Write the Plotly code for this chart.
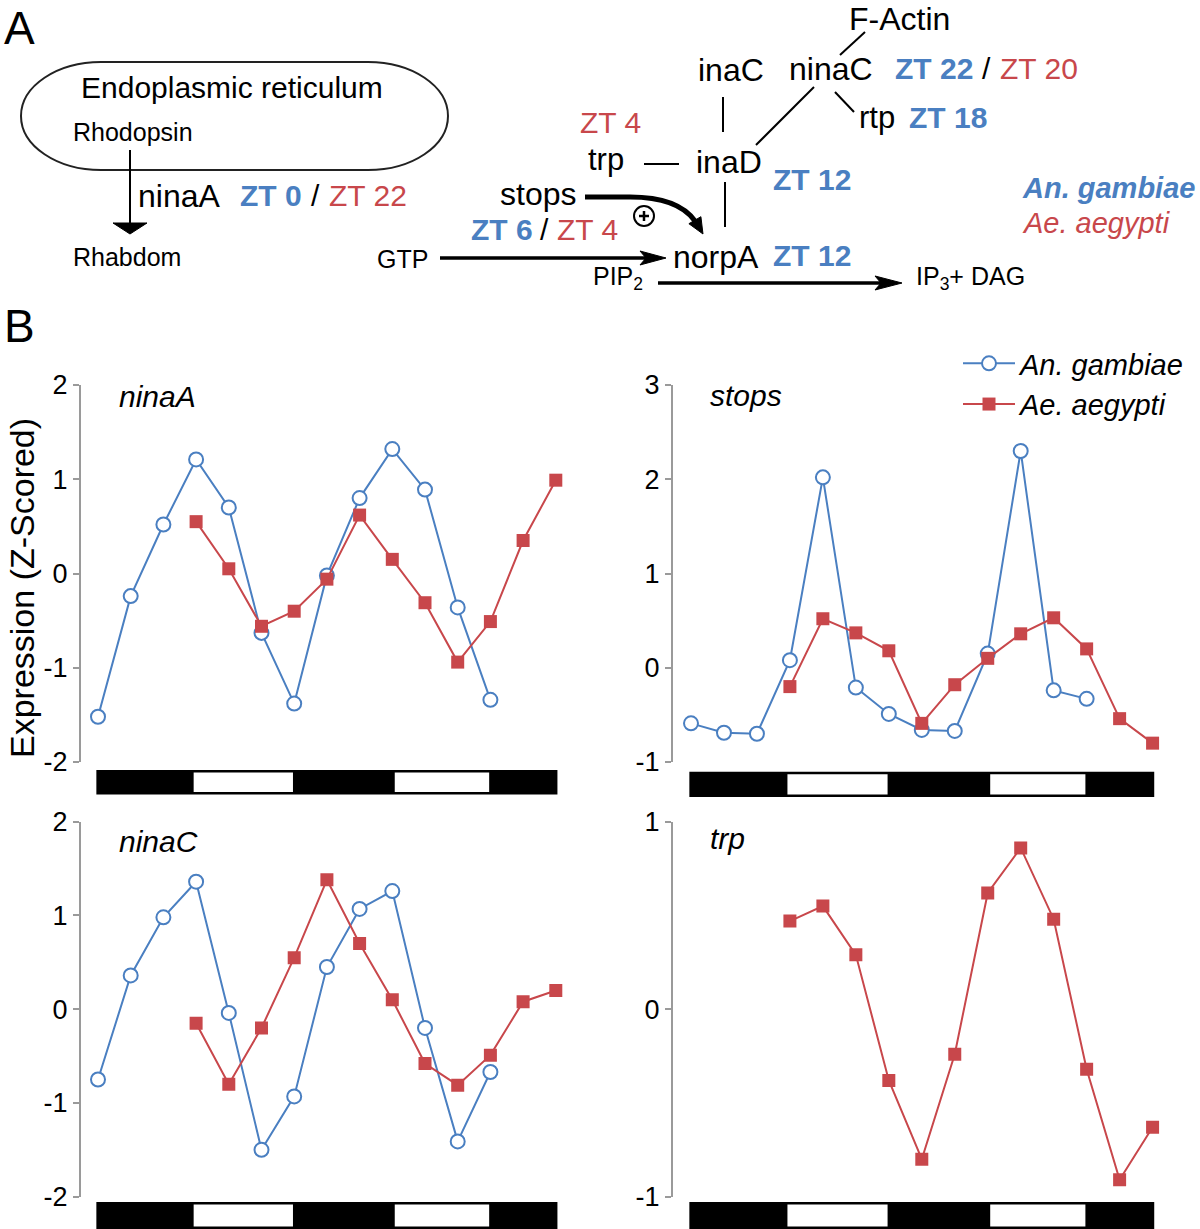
import plotly.graph_objects as go

W, H = 1200, 1229
BLUE = '#4a7fc1'
RED = '#c8474b'
FONT = 'Liberation Sans, Arial, Helvetica, sans-serif'

# ---------------- data ----------------
time_an = [0, 4, 8, 12, 16, 20, 24, 28, 32, 36, 40, 44, 48]          # hours, An. gambiae
time_ae = [12, 16, 20, 24, 28, 32, 36, 40, 44, 48, 52, 56]           # hours, Ae. aegypti

ninaA_an = [-1.52, -0.24, 0.52, 1.21, 0.70, -0.63, -1.38, -0.02, 0.80, 1.32, 0.89, -0.36, -1.34]
ninaA_ae = [0.55, 0.05, -0.56, -0.40, -0.06, 0.62, 0.15, -0.31, -0.94, -0.51, 0.35, 0.99]
stops_an = [-0.59, -0.69, -0.70, 0.08, 2.02, -0.21, -0.49, -0.66, -0.67, 0.15, 2.30, -0.24, -0.33]
stops_ae = [-0.20, 0.52, 0.37, 0.18, -0.59, -0.18, 0.10, 0.36, 0.53, 0.20, -0.54, -0.80]
ninaC_an = [-0.75, 0.36, 0.98, 1.36, -0.04, -1.50, -0.93, 0.45, 1.07, 1.26, -0.20, -1.41, -0.67]
ninaC_ae = [-0.15, -0.80, -0.20, 0.55, 1.38, 0.70, 0.10, -0.58, -0.81, -0.49, 0.08, 0.20]
trp_ae = [0.47, 0.55, 0.29, -0.38, -0.80, -0.24, 0.62, 0.86, 0.48, -0.32, -0.91, -0.63]

genes = ['ninaA', 'stops', 'ninaC', 'trp']
tick_vals = [[-2, -1, 0, 1, 2], [-1, 0, 1, 2, 3], [-2, -1, 0, 1, 2], [-1, 0, 1]]
tick_text = [['-2', '-1', '0', '1', '2'], ['-1', '0', '1', '2', '3'],
             ['-2', '-1', '0', '1', '2'], ['-1', '0', '1']]
light_phases = [(11.7, 23.85), (36.3, 47.85)]   # hours of light (white bar)
record_span = (-0.2, 56.2)                      # hours covered by light/dark bar
species = ['An. gambiae', 'Ae. aegypti']


def PX(p):
    return p / W


def PY(p):
    return 1 - p / H


fig = go.Figure()

# ---------------- panel geometry (pixels) ----------------
col_px = [(81, 570), (673, 1165)]
col_origin = [98, 691]          # pixel of hour 0
col_step = [8.175, 8.2425]      # pixels per hour
row_px = [(385, 762), (821.7, 1196.7)]
bar_px = [[(770, 794.5), (771.7, 797)], [(1202, 1229), (1202, 1229)]]

series = [
    (ninaA_an, ninaA_ae),
    (stops_an, stops_ae),
    (ninaC_an, ninaC_ae),
    (None, trp_ae),
]

layout_axes = {}
shapes = []
annotations = []

for i, gene in enumerate(genes):
    r, c = divmod(i, 2)
    n = i + 1
    xa = 'x' if n == 1 else f'x{n}'
    ya = 'y' if n == 1 else f'y{n}'
    xl, xr = col_px[c]
    yt, yb = row_px[r]
    xrange = [(xl - col_origin[c]) / col_step[c], (xr - col_origin[c]) / col_step[c]]
    layout_axes['xaxis' if n == 1 else f'xaxis{n}'] = dict(
        domain=[PX(xl), PX(xr)], range=xrange, visible=False, anchor=ya, fixedrange=True,
        automargin=False)
    layout_axes['yaxis' if n == 1 else f'yaxis{n}'] = dict(
        domain=[PY(yb), PY(yt)], range=[tick_vals[i][0], tick_vals[i][-1]], anchor=xa,
        tickmode='array', tickvals=tick_vals[i], ticktext=tick_text[i],
        showline=True, linecolor='#9a9a9a', linewidth=2, mirror=False,
        ticks='outside', ticklen=6, tickwidth=2, tickcolor='#9a9a9a',
        showgrid=False, zeroline=False, fixedrange=True, automargin=False,
        tickfont=dict(size=27, color='black', family=FONT))

    an, ae = series[i]
    if an is not None:
        fig.add_trace(go.Scatter(
            x=time_an, y=an, xaxis=xa, yaxis=ya, mode='lines+markers',
            name='<i>' + species[0] + '</i>', showlegend=(i == 0), legendgroup='an',
            line=dict(color=BLUE, width=2),
            marker=dict(symbol='circle', size=14, color='white', line=dict(color=BLUE, width=2))))
    fig.add_trace(go.Scatter(
        x=time_ae, y=ae, xaxis=xa, yaxis=ya, mode='lines+markers',
        name='<i>' + species[1] + '</i>', showlegend=(i == 0), legendgroup='ae',
        line=dict(color=RED, width=2),
        marker=dict(symbol='square', size=13, color=RED, line=dict(color=RED, width=0))))

    # light / dark bar
    bt, bb = bar_px[r][c]
    shapes.append(dict(type='rect', xref=xa, yref='paper', x0=record_span[0], x1=record_span[1],
                       y0=PY(bb), y1=PY(bt), fillcolor='black', line=dict(width=0), layer='above'))
    for (l0, l1) in light_phases:
        shapes.append(dict(type='rect', xref=xa, yref='paper', x0=l0, x1=l1,
                           y0=PY(bb - 2.5), y1=PY(bt + 2.5), fillcolor='white',
                           line=dict(width=0), layer='above'))

    # gene label
    lab_y = [396, 395, 841, 838][i]
    annotations.append(dict(text='<i>' + gene + '</i>', x=PX([117, 708][c]), y=PY(lab_y),
                            xref='paper', yref='paper', xanchor='left', yanchor='middle',
                            showarrow=False, font=dict(size=30, color='black', family=FONT)))


# ---------------- panel A diagram ----------------
def path(cmds):
    out = []
    for cmd, pts in cmds:
        out.append(cmd + ' ' + ' '.join(f'{PX(x):.5f},{PY(y):.5f}' for x, y in pts))
    return ' '.join(out)


def line(x0, y0, x1, y1, w=2):
    shapes.append(dict(type='line', xref='paper', yref='paper', x0=PX(x0), y0=PY(y0),
                       x1=PX(x1), y1=PY(y1), line=dict(color='black', width=w)))


def poly(pts):
    cmds = [('M', [pts[0]])] + [('L', [p]) for p in pts[1:]] + [('Z', [])]
    shapes.append(dict(type='path', xref='paper', yref='paper', path=path(cmds),
                       fillcolor='black', line=dict(color='black', width=1)))


# ER outline
shapes.append(dict(type='path', xref='paper', yref='paper', line=dict(color='#222', width=2),
                   path=path([('M', [(101, 62)]), ('L', [(368, 62)]),
                              ('C', [(412, 62), (448, 86), (448, 116)]),
                              ('C', [(448, 146), (412, 170), (368, 170)]),
                              ('L', [(101, 170)]),
                              ('C', [(57, 170), (21, 146), (21, 116)]),
                              ('C', [(21, 86), (57, 62), (101, 62)]), ('Z', [])])))

line(130, 150, 130, 225, 2)
poly([(113, 223), (147, 223), (130, 234)])
line(440, 258, 648, 258, 3.5)
poly([(666, 258), (640, 251), (646, 258), (640, 265)])
line(658, 283, 885, 283, 3.5)
poly([(902, 283), (875, 276), (881, 283), (875, 290)])
line(865, 32, 840, 55)
line(723, 97, 723, 132)
line(814, 87, 756, 145)
line(835, 92, 854, 112)
line(644, 164, 679, 164)
line(725, 182, 725, 227)
shapes.append(dict(type='path', xref='paper', yref='paper', line=dict(color='black', width=5),
                   path=path([('M', [(585, 197)]), ('L', [(630, 197)]),
                              ('Q', [(678, 197), (695, 221)])])))
poly([(703, 234), (688.9, 223.7), (700.9, 216.7)])
shapes.append(dict(type='circle', xref='paper', yref='paper', x0=PX(634), x1=PX(654),
                   y0=PY(226), y1=PY(206), line=dict(color='black', width=2)))
line(639, 216, 649, 216, 2.5)
line(644, 211, 644, 221, 2.5)


def txt(text, x, y, size, color='black', anchor='left', angle=0):
    annotations.append(dict(text=text, x=PX(x), y=PY(y), xref='paper', yref='paper',
                            xanchor=anchor, yanchor='middle', showarrow=False, textangle=angle,
                            font=dict(size=size, color=color, family=FONT)))


def b(t):
    return '<b>' + t + '</b>'


txt('A', 2, 28, 46)
txt('B', 2, 326, 46)
txt('Endoplasmic reticulum', 79, 87, 30)
txt('Rhodopsin', 71, 132, 25)
txt('ninaA', 136, 196, 32)
txt(b('ZT 0'), 238, 196, 30, BLUE)
txt('/', 309, 196, 30)
txt('ZT 22', 327, 196, 30, RED)
txt('Rhabdom', 71, 257, 25)
txt('GTP', 375, 259, 25)
txt('F-Actin', 847, 19, 32)
txt('inaC', 696, 70, 32)
txt('ninaC', 787, 69, 32)
txt(b('ZT 22'), 893, 69, 30, BLUE)
txt('/', 980, 69, 30)
txt('ZT 20', 998, 69, 30, RED)
txt('rtp', 857, 117, 31)
txt(b('ZT 18'), 907, 118, 30, BLUE)
txt('ZT 4', 578, 122, 30, RED)
txt('trp', 586, 159, 31)
txt('inaD', 694, 162, 32)
txt(b('ZT 12'), 771, 180, 30, BLUE)
txt('stops', 498, 194, 32)
txt(b('ZT 6'), 469, 230, 30, BLUE)
txt('/', 538, 230, 30)
txt('ZT 4', 555, 230, 30, RED)
txt('norpA', 671, 257, 32)
txt(b('ZT 12'), 771, 256, 30, BLUE)
txt('PIP<sub>2</sub>', 591, 278, 25)
txt('IP<sub>3</sub>+ DAG', 914, 278, 25)
txt('<b><i>An. gambiae</i></b>', 1020, 188, 29, BLUE)
txt('<i>Ae. aegypti</i>', 1020, 223, 29, RED)
txt('Expression (Z-Scored)', 22, 588, 34, angle=-90, anchor='center')

fig.update_layout(
    width=W, height=H, autosize=False,
    margin=dict(l=0, r=0, t=0, b=0, pad=0, autoexpand=False),
    paper_bgcolor='white', plot_bgcolor='rgba(0,0,0,0)',
    font=dict(family=FONT, color='black'),
    showlegend=True,
    legend=dict(x=PX(958), y=PY(338), xanchor='left', yanchor='top',
                font=dict(size=29, family=FONT, color='black'),
                bgcolor='rgba(0,0,0,0)', itemwidth=52, tracegroupgap=0),
    shapes=shapes, annotations=annotations,
    **layout_axes)

fig.write_html('out.html', config={'displayModeBar': False},
               post_script="document.body.style.margin='0';document.body.style.overflow='hidden';")
